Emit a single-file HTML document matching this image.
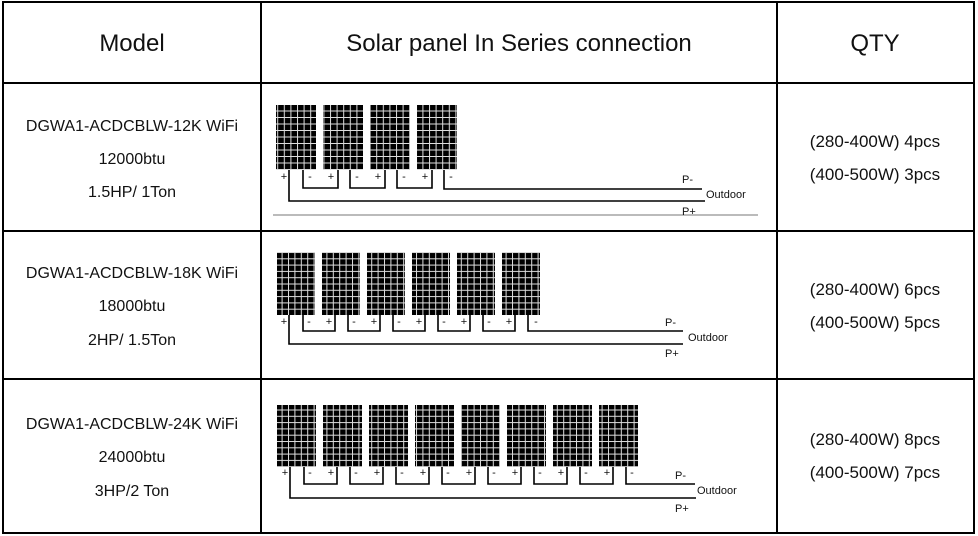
<!DOCTYPE html>
<html><head><style>
body{margin:0;background:#fff}
svg{display:block}
text{font-family:"Liberation Sans",sans-serif;fill:#111}
</style></head><body>
<svg width="978" height="536" viewBox="0 0 978 536" xmlns="http://www.w3.org/2000/svg">
<defs>
<pattern id="cell" width="6.6" height="6.5" patternUnits="userSpaceOnUse">
<rect width="6.6" height="6.5" fill="#ddd"/><rect x="1" y="1" width="5.6" height="5.5" fill="#000"/>
</pattern>
<pattern id="cell2" width="6.4" height="6.3" patternUnits="userSpaceOnUse">
<rect width="6.4" height="6.3" fill="#ddd"/><rect x="1" y="1" width="5.4" height="5.3" fill="#000"/>
</pattern>
</defs>
<g stroke="#000" stroke-width="2" fill="none">
<rect x="3" y="2" width="971" height="531"/>
<line x1="261" y1="2" x2="261" y2="533"/>
<line x1="777" y1="2" x2="777" y2="533"/>
<line x1="3" y1="83" x2="974" y2="83"/>
<line x1="3" y1="231" x2="974" y2="231"/>
<line x1="3" y1="379" x2="974" y2="379"/>
</g>
<g font-size="24" text-anchor="middle">
<text x="132" y="51">Model</text>
<text x="519" y="51">Solar panel In Series connection</text>
<text x="875" y="51">QTY</text>
</g>
<g font-size="16" text-anchor="middle">
<text x="132" y="131">DGWA1-ACDCBLW-12K WiFi</text>
<text x="132" y="164">12000btu</text>
<text x="132" y="197">1.5HP/ 1Ton</text>
<text x="132" y="278">DGWA1-ACDCBLW-18K WiFi</text>
<text x="132" y="311">18000btu</text>
<text x="132" y="345">2HP/ 1.5Ton</text>
<text x="132" y="429">DGWA1-ACDCBLW-24K WiFi</text>
<text x="132" y="462">24000btu</text>
<text x="132" y="496">3HP/2 Ton</text>
</g>
<g font-size="17" text-anchor="middle">
<text x="875" y="147">(280-400W) 4pcs</text>
<text x="875" y="180">(400-500W) 3pcs</text>
<text x="875" y="295">(280-400W) 6pcs</text>
<text x="875" y="328">(400-500W) 5pcs</text>
<text x="875" y="445">(280-400W) 8pcs</text>
<text x="875" y="478">(400-500W) 7pcs</text>
</g>
<!-- Row 1 -->
<g fill="url(#cell)">
<rect x="276" y="105" width="40" height="65"/><rect x="323" y="105" width="40" height="65"/>
<rect x="370" y="105" width="40" height="65"/><rect x="417" y="105" width="40" height="65"/>
</g>
<g stroke="#000" stroke-width="1.6" fill="none">
<polyline points="289,170 289,201 705,201"/>
<polyline points="303,170 303,188 338,188 338,170"/>
<polyline points="350,170 350,188 385,188 385,170"/>
<polyline points="397,170 397,188 432,188 432,170"/>
<polyline points="444,170 444,189 702,189"/>
</g>
<line x1="273" y1="215" x2="758" y2="215" stroke="#777" stroke-width="1"/>
<g font-size="11" text-anchor="middle">
<text x="284" y="180">+</text><text x="310" y="180">-</text>
<text x="331" y="180">+</text><text x="357" y="180">-</text>
<text x="378" y="180">+</text><text x="404" y="180">-</text>
<text x="425" y="180">+</text><text x="451" y="180">-</text>
</g>
<g font-size="11"><text x="682" y="183">P-</text><text x="706" y="198">Outdoor</text><text x="682" y="215">P+</text></g>
<!-- Row 2 -->
<g fill="url(#cell2)">
<rect x="277" y="252" width="38" height="63"/><rect x="322" y="252" width="38" height="63"/>
<rect x="367" y="252" width="38" height="63"/><rect x="412" y="252" width="38" height="63"/>
<rect x="457" y="252" width="38" height="63"/><rect x="502" y="252" width="38" height="63"/>
</g>
<g stroke="#000" stroke-width="1.6" fill="none">
<polyline points="289,315 289,344 683,344"/>
<polyline points="303,315 303,331 335,331 335,315"/>
<polyline points="348,315 348,331 380,331 380,315"/>
<polyline points="393,315 393,331 425,331 425,315"/>
<polyline points="438,315 438,331 470,331 470,315"/>
<polyline points="483,315 483,331 515,331 515,315"/>
<polyline points="528,315 528,331 683,331"/>
</g>
<g font-size="11" text-anchor="middle">
<text x="284" y="325">+</text><text x="309" y="325">-</text>
<text x="329" y="325">+</text><text x="354" y="325">-</text>
<text x="374" y="325">+</text><text x="399" y="325">-</text>
<text x="419" y="325">+</text><text x="444" y="325">-</text>
<text x="464" y="325">+</text><text x="489" y="325">-</text>
<text x="509" y="325">+</text><text x="536" y="325">-</text>
</g>
<g font-size="11"><text x="665" y="326">P-</text><text x="688" y="341">Outdoor</text><text x="665" y="357">P+</text></g>
<!-- Row 3 -->
<g fill="url(#cell2)">
<rect x="277" y="405" width="39" height="62"/><rect x="323" y="405" width="39" height="62"/>
<rect x="369" y="405" width="39" height="62"/><rect x="415" y="405" width="39" height="62"/>
<rect x="461" y="405" width="39" height="62"/><rect x="507" y="405" width="39" height="62"/>
<rect x="553" y="405" width="39" height="62"/><rect x="599" y="405" width="39" height="62"/>
</g>
<g stroke="#000" stroke-width="1.6" fill="none">
<polyline points="290,467 290,498 696,498"/>
<polyline points="304,467 304,484 337,484 337,467"/>
<polyline points="350,467 350,484 383,484 383,467"/>
<polyline points="396,467 396,484 429,484 429,467"/>
<polyline points="442,467 442,484 475,484 475,467"/>
<polyline points="488,467 488,484 521,484 521,467"/>
<polyline points="534,467 534,484 567,484 567,467"/>
<polyline points="580,467 580,484 613,484 613,467"/>
<polyline points="626,467 626,484 695,484"/>
</g>
<g font-size="11" text-anchor="middle">
<text x="285" y="476">+</text><text x="310" y="476">-</text>
<text x="331" y="476">+</text><text x="356" y="476">-</text>
<text x="377" y="476">+</text><text x="402" y="476">-</text>
<text x="423" y="476">+</text><text x="448" y="476">-</text>
<text x="469" y="476">+</text><text x="494" y="476">-</text>
<text x="515" y="476">+</text><text x="540" y="476">-</text>
<text x="561" y="476">+</text><text x="586" y="476">-</text>
<text x="607" y="476">+</text><text x="632" y="476">-</text>
</g>
<g font-size="11"><text x="675" y="479">P-</text><text x="697" y="494">Outdoor</text><text x="675" y="512">P+</text></g>
</svg>
</body></html>
